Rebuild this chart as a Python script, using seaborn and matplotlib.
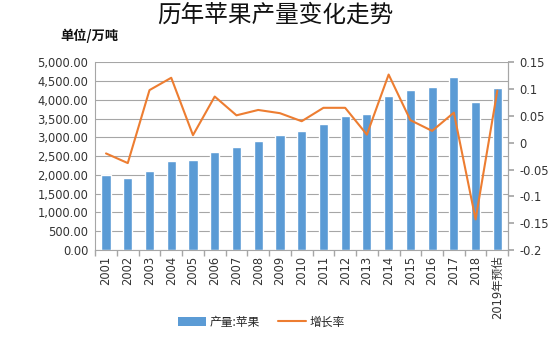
import matplotlib
matplotlib.use("Agg")
import matplotlib.pyplot as plt
import seaborn as sns
import numpy as np
import pandas as pd
from matplotlib.ticker import FuncFormatter, FixedLocator
from matplotlib.patches import Patch
from matplotlib.lines import Line2D

years = ["2001", "2002", "2003", "2004", "2005", "2006", "2007", "2008", "2009", "2010",
         "2011", "2012", "2013", "2014", "2015", "2016", "2017", "2018", "2019年预估"]
production = [2000, 1925, 2110, 2370, 2400, 2610, 2740, 2900, 3060, 3170,
              3360, 3580, 3620, 4100, 4260, 4340, 4600, 3940, 4320]
growth = [-0.02, -0.038, 0.098, 0.121, 0.014, 0.086, 0.051, 0.061, 0.055, 0.040,
          0.065, 0.065, 0.015, 0.127, 0.042, 0.022, 0.056, -0.143, 0.097]

sns.set_theme(style="white")
plt.rcParams['font.family'] = ['DejaVu Sans', 'Noto Sans CJK SC']
cjk = ['Noto Sans CJK SC', 'DejaVu Sans']

df = pd.DataFrame({"year": years, "prod": production, "growth": growth})

fig = plt.figure(figsize=(5.5, 3.39), dpi=100)
ax = fig.add_axes([0.173, 0.2625, 0.751, 0.554])
bar_color = "#5B9BD5"
line_color = "#ED7D31"
sns.barplot(data=df, x="year", y="prod", color=bar_color, width=0.42, saturation=1, ax=ax, zorder=2)
ax.set_ylim(0, 5000)
ax.set_yticks(np.arange(0, 5001, 500))
ax.yaxis.set_major_formatter(FuncFormatter(lambda v, p: f"{v:,.2f}"))
ax.grid(axis="y", color="#A6A6A6", linewidth=0.8, zorder=0)
ax.set_axisbelow(True)
ax.set_xlabel("")
ax.set_ylabel("")
ax.spines["top"].set_visible(False)
for s in ["left", "bottom", "right"]:
    ax.spines[s].set_color("#A6A6A6")
    ax.spines[s].set_linewidth(0.8)
ax.tick_params(axis="y", labelsize=8.3, colors="#333333", length=0, pad=5)
ax.tick_params(axis="x", labelsize=8.3, colors="#333333", rotation=90, length=0, pad=4)
ax.xaxis.set_minor_locator(FixedLocator(np.arange(-0.5, len(years), 1.0)))
ax.tick_params(axis="x", which="minor", length=4, color="#A6A6A6", bottom=True)

ax2 = ax.twinx()
sns.lineplot(data=df, x="year", y="growth", sort=False, color=line_color, linewidth=1.5, ax=ax2)
ax2.set_ylim(-0.2, 0.15)
ax2.set_yticks([-0.2, -0.15, -0.1, -0.05, 0, 0.05, 0.1, 0.15])
ax2.yaxis.set_major_formatter(FuncFormatter(lambda v, p: f"{v:g}" if abs(v) > 1e-9 else "0"))
ax2.set_ylabel("")
ax2.tick_params(axis="y", labelsize=8.3, colors="#333333", length=4, color="#A6A6A6", right=True, pad=4)
for s in ["top", "left", "bottom"]:
    ax2.spines[s].set_visible(False)
ax2.spines["right"].set_color("#A6A6A6")
ax2.spines["right"].set_linewidth(0.8)
ax2.set_xlim(-0.5, len(years) - 0.5)

fig.text(0.5, 0.955, "历年苹果产量变化走势", ha="center", va="center", fontsize=17,
         color="#111111", family=cjk)
fig.text(0.11, 0.895, "单位/万吨", ha="left", va="center", fontsize=9.5, fontweight="bold",
         color="#111111", family=cjk)

handles = [Patch(facecolor=bar_color, edgecolor="none", label="产量:苹果"),
           Line2D([0], [0], color=line_color, linewidth=1.5, label="增长率")]
fig.legend(handles=handles, loc="center", bbox_to_anchor=(0.475, 0.05), ncol=2, frameon=False,
           prop={"family": cjk, "size": 8.5}, handlelength=2.4, handleheight=0.7,
           columnspacing=1.5, handletextpad=0.3)

fig.savefig("out.png", dpi=100)
